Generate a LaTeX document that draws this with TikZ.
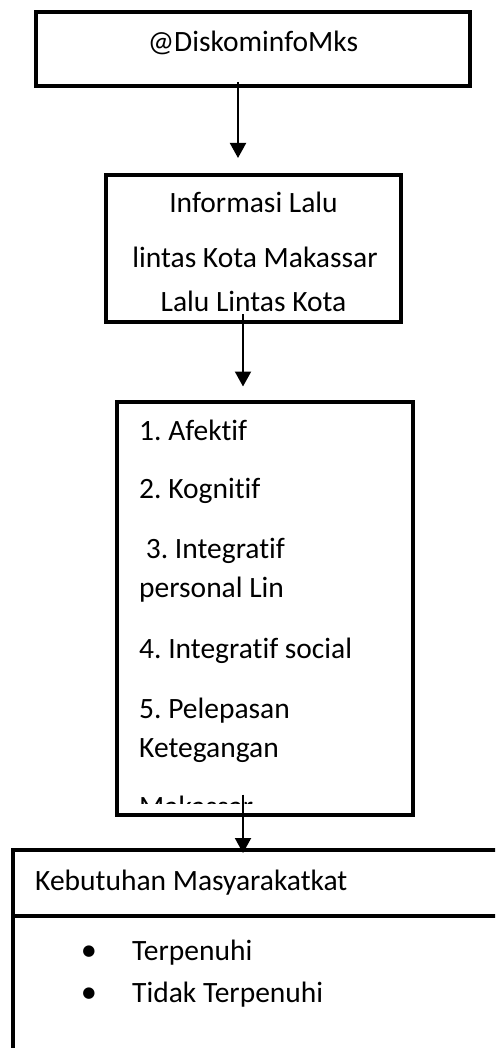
\documentclass[tikz,border=0pt]{standalone}
\usepackage{fontspec}
\setmainfont[Ligatures=NoCommon]{Carlito}
\newfontfamily\symfont{DejaVu Sans}
\usetikzlibrary{arrows.meta}
\frenchspacing
\begin{document}
\begin{tikzpicture}[x=1pt,y=1pt,
  boxnode/.style={draw, line width=4pt, inner sep=0pt},
  arr/.style={line width=2pt, -{Triangle[length=15pt,width=16pt]}},
  txt/.style={inner sep=0pt, anchor=base west, font=\fontsize{29.5}{37}\selectfont},
  ctxt/.style={inner sep=0pt, anchor=base, font=\fontsize{29.5}{37}\selectfont},
  bul/.style={inner sep=0pt, anchor=center, font=\symfont\fontsize{15}{15}\selectfont}]
\useasboundingbox (0,0) rectangle (495,-1048);
\clip (0,0) rectangle (495,-1048);
% box 1
\node[ctxt] (t1) at (253,-52) {@DiskominfoMks};
\node[boxnode, minimum width=434pt, minimum height=74pt] (b1) at (253,-49) {};
% box 2
\node[ctxt] (t2a) at (253.5,-213) {Informasi Lalu};
\node[ctxt] (t2b) at (255,-268) {lintas Kota Makassar};
\node[ctxt] (t2c) at (253.5,-311) {Lalu Lintas Kota};
\node[boxnode, minimum width=295pt, minimum height=147pt] (b2) at (253.5,-248.5) {};
% box 3
\begin{scope}
\clip (117,-401) rectangle (413,-803);
\node[txt] (l1) at (139,-440) {1. Afektif};
\node[txt] (l2) at (139,-498) {2. Kognitif};
\node[txt] (l3) at (139,-558) {\ 3. Integratif};
\node[txt] (l3b) at (139,-597) {personal Lin};
\node[txt] (l4) at (139,-658) {4. Integratif social};
\node[txt] (l5) at (139,-718) {5. Pelepasan};
\node[txt] (l5b) at (139,-757) {Ketegangan};
\node[txt] (l6) at (139,-816) {Makassar};
\end{scope}
\node[boxnode, minimum width=296pt, minimum height=413pt] (b3) at (265,-608) {};
% box 4
\node[boxnode, minimum width=507pt, minimum height=230pt] (b4) at (266.5,-965) {};
\coordinate (dl) at (13,-916);
\coordinate (dr) at (520,-916);
\draw[line width=4pt] (dl) -- (dr);
\node[txt] (k) at (35,-890) {Kebutuhan Masyarakatkat};
\node[bul] (u1) at (89,-952) {●};
\node[txt] (p1) at (132,-960) {Terpenuhi};
\node[bul] (u2) at (89,-994) {●};
\node[txt] (p2) at (132,-1002) {Tidak Terpenuhi};
% arrows
\coordinate (x1) at (238,0);
\coordinate (x2) at (243,0);
\draw[arr] ([yshift=6pt]b1.south -| x1) -- ([yshift=15pt]b2.north -| x1);
\draw[arr] ([yshift=10pt]b2.south -| x2) -- ([yshift=13pt]b3.north -| x2);
\draw[arr] ([yshift=22pt]b3.south -| x2) -- ([yshift=-5pt]b4.north -| x2);
\end{tikzpicture}
\end{document}
